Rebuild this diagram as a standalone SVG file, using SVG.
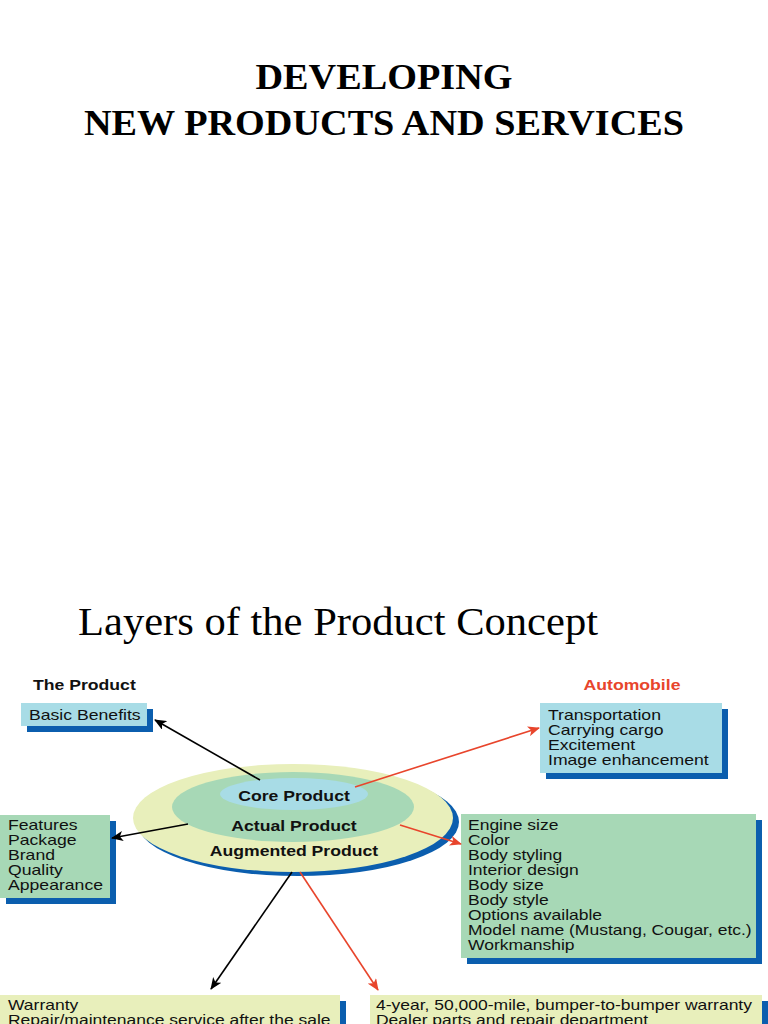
<svg xmlns="http://www.w3.org/2000/svg" width="768" height="1024" viewBox="0 0 768 1024">
<defs>
<style>
.title{font-family:"Liberation Serif",serif;font-weight:bold;font-size:36px;fill:#000}
.sub{font-family:"Liberation Serif",serif;font-size:40px;fill:#000}
.t{font-family:"Liberation Sans",Arial,sans-serif;font-size:14px;fill:#111}
.hb{font-family:"Liberation Sans",Arial,sans-serif;font-size:14px;font-weight:bold}
.eb{font-family:"Liberation Sans",Arial,sans-serif;font-size:14px;font-weight:bold;fill:#111}
.sh{fill:#0b5eae}
.blue{fill:#a8dce6}
.green{fill:#a7d8b6}
.yel{fill:#e8efbb}
.bk{stroke:#000;stroke-width:1.6;fill:none}
.rd{stroke:#e8452c;stroke-width:1.6;fill:none}
</style>
<marker id="ab" viewBox="0 0 12 10" refX="11" refY="5" markerWidth="12" markerHeight="10" markerUnits="userSpaceOnUse" orient="auto"><path d="M0,0 L12,5 L0,10 L3,5 Z" fill="#000"/></marker>
<marker id="ar" viewBox="0 0 12 10" refX="11" refY="5" markerWidth="12" markerHeight="10" markerUnits="userSpaceOnUse" orient="auto"><path d="M0,0 L12,5 L0,10 L3,5 Z" fill="#e8452c"/></marker>
</defs>
<rect width="768" height="1024" fill="#fff"/>
<g id="title">
<text class="title" x="384" y="89" text-anchor="middle" textLength="257" lengthAdjust="spacingAndGlyphs">DEVELOPING</text>
<text class="title" x="384" y="135" text-anchor="middle" textLength="600" lengthAdjust="spacingAndGlyphs">NEW PRODUCTS AND SERVICES</text>
</g>
<text class="sub" x="78" y="635" textLength="520" lengthAdjust="spacingAndGlyphs">Layers of the Product Concept</text>
<g transform="translate(33 0) scale(1.26 1)"><text class="hb" x="0" y="690" fill="#111">The Product</text></g>
<g transform="translate(632 0) scale(1.26 1)"><text class="hb" x="0" y="690" fill="#e8452c" text-anchor="middle">Automobile</text></g>

<g id="layers">
<ellipse class="sh" cx="298" cy="822" rx="161" ry="54"/>
<ellipse class="yel" cx="293" cy="818" rx="160" ry="54"/>
<ellipse class="green" cx="293" cy="807" rx="121" ry="35"/>
<ellipse class="blue" cx="294" cy="794" rx="74" ry="16"/>
<g transform="translate(294 0) scale(1.26 1)">
<text class="eb" x="0" y="801" text-anchor="middle">Core Product</text>
<text class="eb" x="0" y="831" text-anchor="middle">Actual Product</text>
<text class="eb" x="0" y="856" text-anchor="middle">Augmented Product</text>
</g>
</g>

<g id="basic">
<rect class="sh" x="27" y="709" width="126" height="23"/>
<rect class="blue" x="21" y="703" width="126" height="23"/>
<g transform="translate(29 0) scale(1.26 1)"><text class="t" x="0" y="720">Basic Benefits</text></g>
</g>

<g id="auto-core">
<rect class="sh" x="546" y="709" width="182" height="70"/>
<rect class="blue" x="540" y="703" width="182" height="70"/>
<g transform="translate(548 0) scale(1.26 1)">
<text class="t" x="0" y="720">Transportation</text>
<text class="t" x="0" y="735">Carrying cargo</text>
<text class="t" x="0" y="750">Excitement</text>
<text class="t" x="0" y="765">Image enhancement</text>
</g>
</g>

<g id="features">
<rect class="sh" x="6" y="821" width="110" height="83"/>
<rect class="green" x="0" y="815" width="110" height="83"/>
<g transform="translate(8 0) scale(1.26 1)">
<text class="t" x="0" y="830">Features</text>
<text class="t" x="0" y="845">Package</text>
<text class="t" x="0" y="860">Brand</text>
<text class="t" x="0" y="875">Quality</text>
<text class="t" x="0" y="890">Appearance</text>
</g>
</g>

<g id="auto-actual">
<rect class="sh" x="467" y="820" width="295" height="144"/>
<rect class="green" x="461" y="814" width="295" height="144"/>
<g transform="translate(468 0) scale(1.25 1)">
<text class="t" x="0" y="830">Engine size</text>
<text class="t" x="0" y="845">Color</text>
<text class="t" x="0" y="860">Body styling</text>
<text class="t" x="0" y="875">Interior design</text>
<text class="t" x="0" y="890">Body size</text>
<text class="t" x="0" y="905">Body style</text>
<text class="t" x="0" y="920">Options available</text>
<text class="t" x="0" y="935">Model name (Mustang, Cougar, etc.)</text>
<text class="t" x="0" y="950">Workmanship</text>
</g>
</g>

<g id="augmented">
<rect class="sh" x="6" y="1001" width="340" height="40"/>
<rect class="yel" x="0" y="995" width="340" height="40"/>
<g transform="translate(8 0) scale(1.25 1)">
<text class="t" x="0" y="1010">Warranty</text>
<text class="t" x="0" y="1025">Repair/maintenance service after the sale</text>
</g>
</g>

<g id="auto-augmented">
<rect class="sh" x="376" y="1001" width="392" height="40"/>
<rect class="yel" x="370" y="995" width="392" height="40"/>
<g transform="translate(376 0) scale(1.25 1)">
<text class="t" x="0" y="1010">4-year, 50,000-mile, bumper-to-bumper warranty</text>
<text class="t" x="0" y="1025">Dealer parts and repair department</text>
</g>
</g>

<g id="connectors">
<line class="bk" x1="260" y1="780" x2="155" y2="720" marker-end="url(#ab)"/>
<line class="rd" x1="355" y1="787" x2="539" y2="728" marker-end="url(#ar)"/>
<line class="bk" x1="188" y1="824" x2="112" y2="838" marker-end="url(#ab)"/>
<line class="rd" x1="400" y1="825" x2="461" y2="844" marker-end="url(#ar)"/>
<line class="bk" x1="292" y1="872" x2="211" y2="989" marker-end="url(#ab)"/>
<line class="rd" x1="300" y1="872" x2="378" y2="990" marker-end="url(#ar)"/>
</g>
</svg>
